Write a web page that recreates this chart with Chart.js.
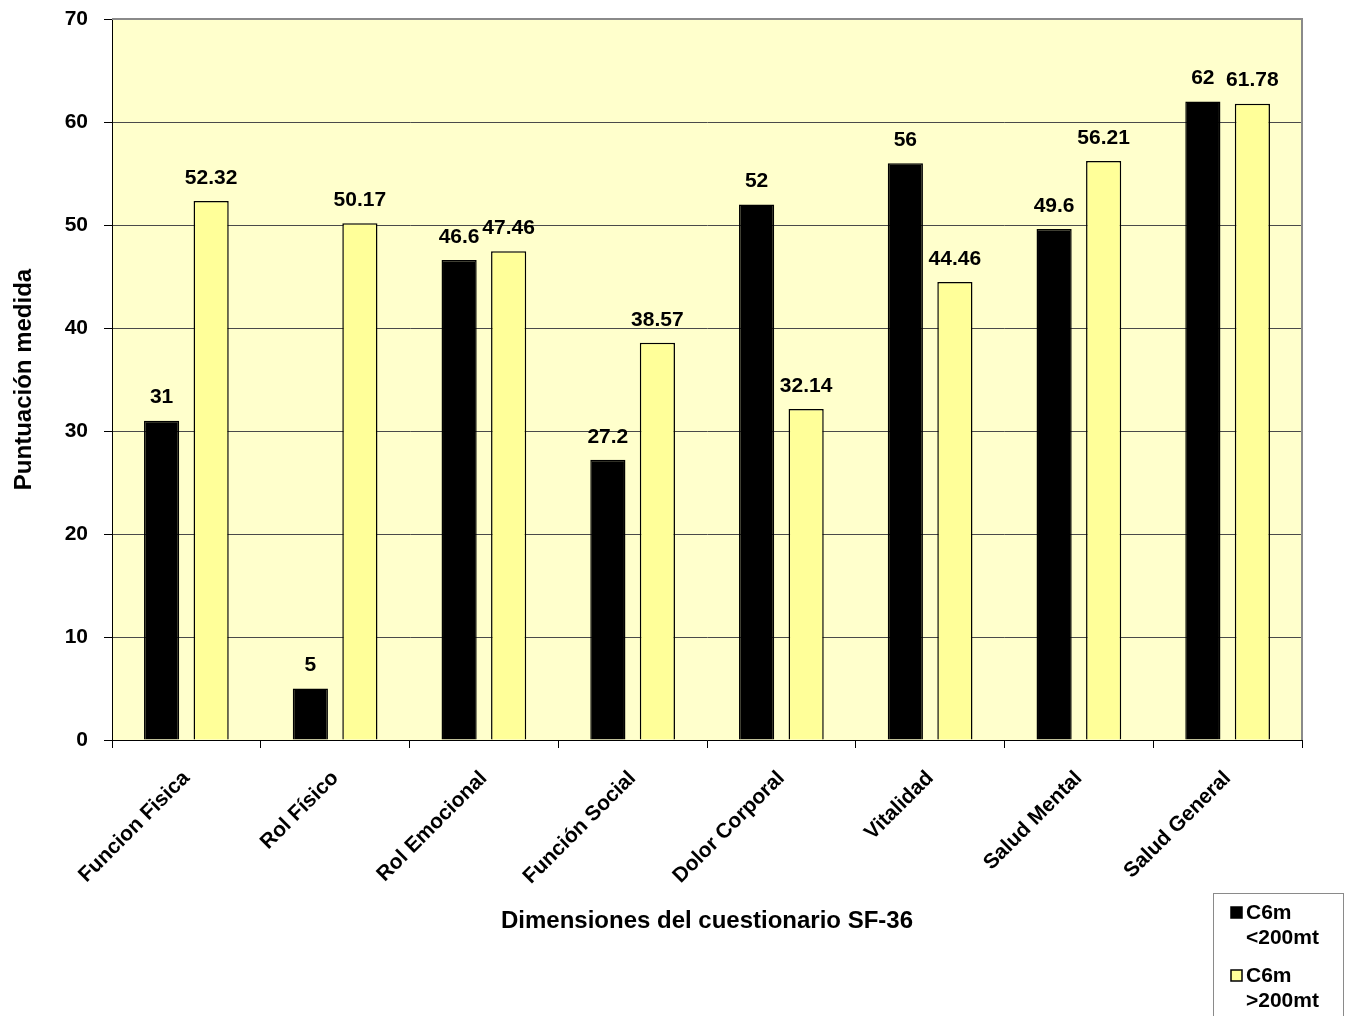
<!DOCTYPE html>
<html>
<head>
<meta charset="utf-8">
<script src="https://cdn.jsdelivr.net/npm/chart.js@4/dist/chart.umd.min.js"></script>
<style>
  html, body { margin: 0; padding: 0; background: #ffffff; }
  #wrap { position: relative; width: 1350px; height: 1016px; overflow: hidden; }
  #chart { display: block; }
</style>
</head>
<body>
<div id="wrap"><canvas id="chart" width="1350" height="1016"></canvas></div>
<script>
// SF-36 dimension scores by six-minute walk group
const categories = ['Funcion Fisica', 'Rol Físico', 'Rol Emocional', 'Función Social',
                    'Dolor Corporal', 'Vitalidad', 'Salud Mental', 'Salud General'];
const seriesNames = [['C6m', '<200mt'], ['C6m', '>200mt']];
const below200 = [31, 5, 46.6, 27.2, 52, 56, 49.6, 62];
const above200 = [52.32, 50.17, 47.46, 38.57, 32.14, 44.46, 56.21, 61.78];
const yTicks = [0, 10, 20, 30, 40, 50, 60, 70];

const FONT = '"Liberation Sans", Arial, Helvetica, sans-serif';

// Pale plot background with a grey frame
const plotFrame = {
  id: 'plotFrame',
  beforeDraw(chart) {
    const { ctx, chartArea: a } = chart;
    ctx.save();
    ctx.fillStyle = '#FFFFCC';
    ctx.fillRect(a.left, a.top, a.right - a.left, a.bottom - a.top);
    ctx.restore();
  },
  afterDatasetsDraw(chart) {
    const { ctx, chartArea: a } = chart;
    ctx.save();
    ctx.strokeStyle = '#8a8a8a';
    ctx.lineWidth = 2;
    ctx.beginPath();
    ctx.moveTo(a.left, a.top);
    ctx.lineTo(a.right, a.top);
    ctx.lineTo(a.right, a.bottom);
    ctx.stroke();
    ctx.restore();
  }
};

// Value printed above every bar
const valueLabels = {
  id: 'valueLabels',
  afterDatasetsDraw(chart) {
    const { ctx } = chart;
    ctx.save();
    ctx.font = 'bold 21px ' + FONT;
    ctx.fillStyle = '#000';
    ctx.textAlign = 'center';
    ctx.textBaseline = 'middle';
    chart.data.datasets.forEach((ds, i) => {
      chart.getDatasetMeta(i).data.forEach((bar, j) => {
        ctx.fillText(String(ds.data[j]), bar.x, bar.y - 23);
      });
    });
    ctx.restore();
  }
};

// Boxed legend in the lower right corner, two lines per entry
const boxLegend = {
  id: 'boxLegend',
  afterDraw(chart) {
    const { ctx } = chart;
    ctx.save();
    ctx.strokeStyle = '#8a8a8a';
    ctx.lineWidth = 1;
    ctx.fillStyle = '#fff';
    ctx.fillRect(1213.5, 893.5, 130, 140);
    ctx.strokeRect(1213.5, 893.5, 130, 140);
    ctx.font = 'bold 21px ' + FONT;
    ctx.textBaseline = 'middle';
    ctx.textAlign = 'left';
    chart.data.datasets.forEach((ds, i) => {
      const y0 = 913 + i * 63;
      ctx.fillStyle = ds.backgroundColor;
      ctx.fillRect(1231, y0 - 6, 11, 11);
      ctx.strokeStyle = '#000';
      ctx.lineWidth = 1.5;
      ctx.strokeRect(1231, y0 - 6, 11, 11);
      ctx.fillStyle = '#000';
      seriesNames[i].forEach((line, k) => {
        ctx.fillText(line, 1246, y0 + k * 25);
      });
    });
    ctx.restore();
  }
};

new Chart(document.getElementById('chart'), {
  type: 'bar',
  data: {
    labels: categories,
    datasets: [
      { label: seriesNames[0].join(' '), data: below200, backgroundColor: '#000000',
        borderColor: '#000000', borderWidth: 1.5, categoryPercentage: 0.666, barPercentage: 0.71 },
      { label: seriesNames[1].join(' '), data: above200, backgroundColor: '#FFFF99',
        borderColor: '#000000', borderWidth: 1.5, categoryPercentage: 0.666, barPercentage: 0.71 }
    ]
  },
  options: {
    responsive: false,
    animation: false,
    layout: { padding: { top: 19, right: 48, bottom: 80, left: 0 } },
    plugins: {
      legend: { display: false },
      tooltip: { enabled: false }
    },
    scales: {
      x: {
        grid: { offset: true, drawOnChartArea: false, drawTicks: true, tickLength: 8, color: '#000', lineWidth: 1 },
        border: { color: '#000', width: 1 },
        ticks: { color: '#000', font: { family: FONT, size: 21, weight: 'bold' }, maxRotation: 45, minRotation: 45, padding: 18 },
        title: { display: true, text: 'Dimensiones del cuestionario SF-36', color: '#000',
                 font: { family: FONT, size: 24, weight: 'bold' }, padding: 0 },
        afterFit(scale) { scale.height = 196; }
      },
      y: {
        min: 0, max: 70,
        afterBuildTicks(scale) { scale.ticks = yTicks.map(v => ({ value: v })); },
        grid: { color: '#4a4a4a', lineWidth: 1, tickLength: 8, tickColor: '#000', drawTicks: true },
        border: { color: '#000', width: 1 },
        ticks: { color: '#000', font: { family: FONT, size: 21, weight: 'bold' }, padding: 16 },
        title: { display: true, text: 'Puntuación medida', color: '#000',
                 font: { family: FONT, size: 24, weight: 'bold' }, padding: { top: 10, bottom: 0 } },
        afterFit(scale) {
          scale.width = 112;
          scale.paddingTop = 0;
          scale.paddingBottom = 0;
        }
      }
    }
  },
  plugins: [plotFrame, valueLabels, boxLegend]
});
</script>
</body>
</html>
